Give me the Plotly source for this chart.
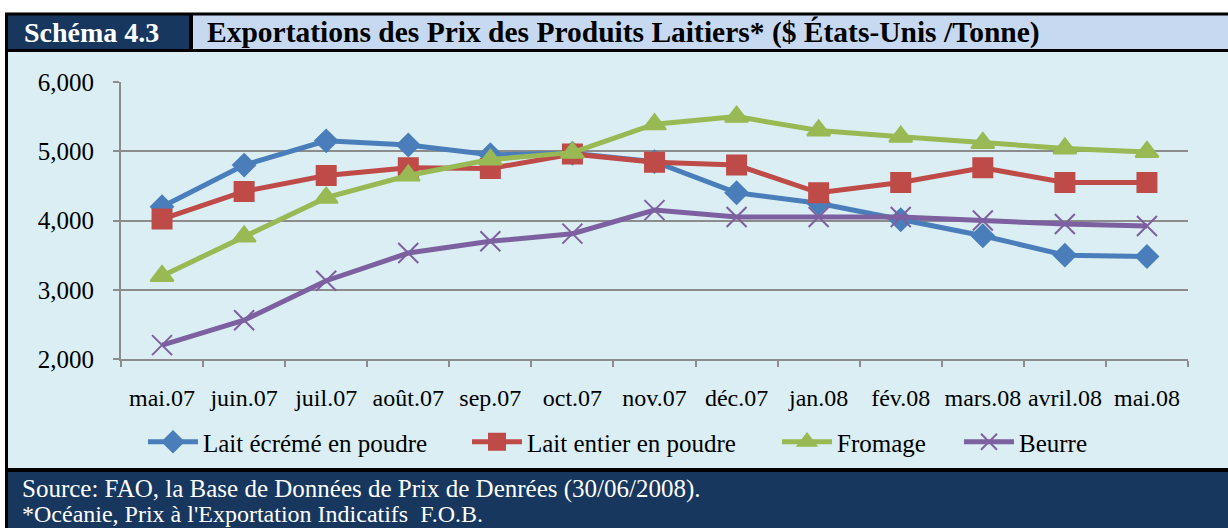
import plotly.graph_objects as go

# categories and series values
months = ["mai.07", "juin.07", "juil.07", "août.07", "sep.07", "oct.07", "nov.07",
          "déc.07", "jan.08", "fév.08", "mars.08", "avril.08", "mai.08"]
lait_ecreme = [4200, 4800, 5150, 5090, 4950, 4970, 4850, 4400, 4250, 4010, 3780, 3500, 3480]
lait_entier = [4020, 4420, 4650, 4760, 4750, 4960, 4840, 4800, 4400, 4550, 4760, 4550, 4550]
fromage = [3200, 3770, 4330, 4650, 4880, 4980, 5390, 5500, 5300, 5210, 5120, 5040, 4990]
beurre = [2200, 2560, 3130, 3530, 3700, 3810, 4150, 4050, 4050, 4050, 4000, 3950, 3920]

W, H = 1228, 528
L, R, T, B = 121, 1188, 82, 359

FONT = "Liberation Serif, Times New Roman, serif"
BG = "#DAEEF3"
DARK = "#17375E"
TITLE_BG = "#C6D9F1"


def px(x):
    return (x - L) / (R - L)


def py(y):
    return (B - y) / (B - T)


def rect(x0, y0, x1, y1, color):
    return dict(type="rect", xref="paper", yref="paper",
                x0=px(x0), x1=px(x1), y0=py(y1), y1=py(y0),
                fillcolor=color, line_width=0, layer="above")


series = [
    ("Lait écrémé en poudre", lait_ecreme, "#4A7EBB", "diamond", 17, "legend", 143),
    ("Lait entier en poudre", lait_entier, "#BE4B48", "square", 19, "legend2", 467),
    ("Fromage", fromage, "#98B954", "triangle-up", 20, "legend3", 777),
    ("Beurre", beurre, "#7D60A0", "x-thin", 20, "legend4", 959),
]

fig = go.Figure()
legends = {}
for name, values, color, symbol, size, leg, x0 in series:
    fig.add_trace(go.Scatter(
        x=months, y=values, name=name, mode="lines+markers",
        line=dict(color=color, width=5),
        marker=dict(symbol=symbol, size=size, color=color,
                    line=dict(color=color, width=2)),
        legend=leg, showlegend=True,
    ))
    legends[leg] = dict(
        orientation="h", x=px(x0), xanchor="left", y=py(442), yanchor="middle",
        bgcolor="rgba(0,0,0,0)", font=dict(family=FONT, size=25, color="black"),
        itemwidth=50,
    )

shapes = [
    rect(0, 0, W, 12.5, "white"),
    rect(0, 0, 5, H, "white"),
    rect(5, 12.5, W, 52, "black"),
    rect(8, 15.5, 189, 49, DARK),
    rect(193, 15.5, W, 49, TITLE_BG),
    rect(5, 52, 8, H, "black"),
    rect(5, 468, W, 472, "black"),
    rect(8, 472, W, H, DARK),
]

annotations = [
    dict(text="<b>Schéma 4.3</b>", x=px(91), y=py(32), xanchor="center", yanchor="middle",
         font=dict(family=FONT, size=28, color="white")),
    dict(text="<b>Exportations des Prix des Produits Laitiers* ($ États-Unis /Tonne)</b>",
         x=px(205), y=py(32), xanchor="left", yanchor="middle",
         font=dict(family=FONT, size=29.5, color="black")),
    dict(text="Source: FAO, la Base de Données de Prix de Denrées (30/06/2008).",
         x=px(20), y=py(489), xanchor="left", yanchor="middle",
         font=dict(family=FONT, size=25, color="white")),
    dict(text="*Océanie, Prix à l'Exportation Indicatifs  F.O.B.",
         x=px(20), y=py(514), xanchor="left", yanchor="middle",
         font=dict(family=FONT, size=24, color="white")),
]
for a in annotations:
    a.update(xref="paper", yref="paper", showarrow=False)

fig.update_layout(
    width=W, height=H,
    margin=dict(l=L, r=W - R, t=T, b=H - B, pad=0),
    paper_bgcolor=BG, plot_bgcolor=BG,
    font=dict(family=FONT, size=25, color="black"),
    showlegend=True,
    shapes=shapes, annotations=annotations,
    **legends,
)
fig.update_xaxes(
    type="category", range=[-0.5, len(months) - 0.5],
    tickson="boundaries", ticks="outside", ticklen=6, tickwidth=2, tickcolor="#8C8C8C",
    showgrid=False, showline=True, linecolor="#8C8C8C", linewidth=2,
    tickfont=dict(family=FONT, size=24), tickangle=0, ticklabelstandoff=16,
)
fig.update_yaxes(
    range=[2000, 6000], dtick=1000, tickformat=",d",
    ticks="outside", ticklen=6, tickwidth=2, tickcolor="#8C8C8C",
    showgrid=True, gridcolor="#8C8C8C", gridwidth=2,
    showline=True, linecolor="#8C8C8C", linewidth=2,
    zeroline=False, tickfont=dict(family=FONT, size=25), ticklabelstandoff=14,
)

# the page's default body margin would shift the chart by 8px
fig.write_html("out.html", config={"displayModeBar": False},
               post_script="document.body.style.margin='0';")
